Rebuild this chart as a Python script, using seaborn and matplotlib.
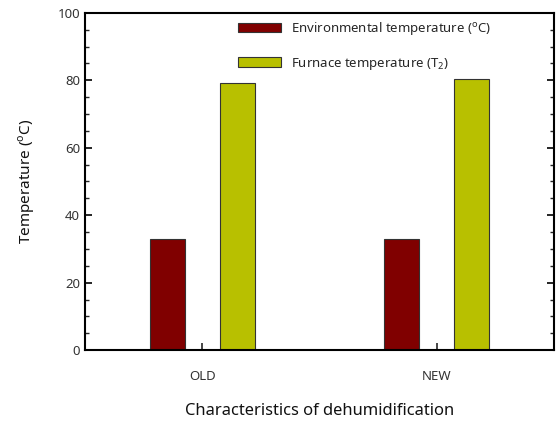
import numpy as np
import pandas as pd
import matplotlib
matplotlib.use("Agg")
import matplotlib.pyplot as plt
from matplotlib.ticker import MultipleLocator
import seaborn as sns

# data
categories = ["OLD", "NEW"]
series_names = ["Environmental temperature ($^{\\mathrm{o}}$C)", "Furnace temperature (T$_{2}$)"]
env_temp = [32.8, 33.0]
furnace_temp = [79.1, 80.5]
bar_colors = ["#800000", "#b8c000"]

df = pd.DataFrame({
    "category": categories * 2,
    "series": [series_names[0]] * 2 + [series_names[1]] * 2,
    "temp": env_temp + furnace_temp,
})

sns.set_style("ticks")
plt.rcParams["font.family"] = ["Noto Sans", "DejaVu Sans"]
plt.rcParams["mathtext.fontset"] = "custom"
plt.rcParams["mathtext.rm"] = "Noto Sans"

fig, ax = plt.subplots(figsize=(5.56, 4.28), dpi=100)
fig.subplots_adjust(left=0.153, right=0.996, bottom=0.182, top=0.970)

sns.barplot(data=df, x="category", y="temp", hue="series", order=categories,
            hue_order=series_names, palette=bar_colors, width=0.6, gap=0.5,
            edgecolor="#333333", linewidth=0.8, saturation=1, ax=ax)

ax.set_xlim(-0.5, 1.5)
ax.set_ylim(0, 100)
ax.yaxis.set_major_locator(MultipleLocator(20))
ax.yaxis.set_minor_locator(MultipleLocator(5))
ax.tick_params(axis="y", which="major", direction="in", length=5, width=1.2,
               right=True, labelsize=9.5, colors="black", labelcolor="#333333")
ax.tick_params(axis="y", which="minor", direction="in", length=3, width=1, right=True)
ax.tick_params(axis="x", direction="in", length=5, width=1.2, pad=14,
               labelsize=9.5, labelcolor="#333333")
for s in ax.spines.values():
    s.set_linewidth(1.5)
    s.set_color("black")

ax.set_xlabel("Characteristics of dehumidification", fontsize=11.9, labelpad=15, color="#111111")
ax.set_ylabel("Temperature ($^{\\mathrm{o}}$C)", fontsize=11, labelpad=15, color="#111111")

leg = ax.legend(loc="upper left", bbox_to_anchor=(0.326, 0.978), frameon=False,
                fontsize=9.5, handlelength=3.3, handleheight=0.75,
                handletextpad=0.75, labelspacing=1.4, borderpad=0, borderaxespad=0)

fig.savefig("out.png", dpi=100)
